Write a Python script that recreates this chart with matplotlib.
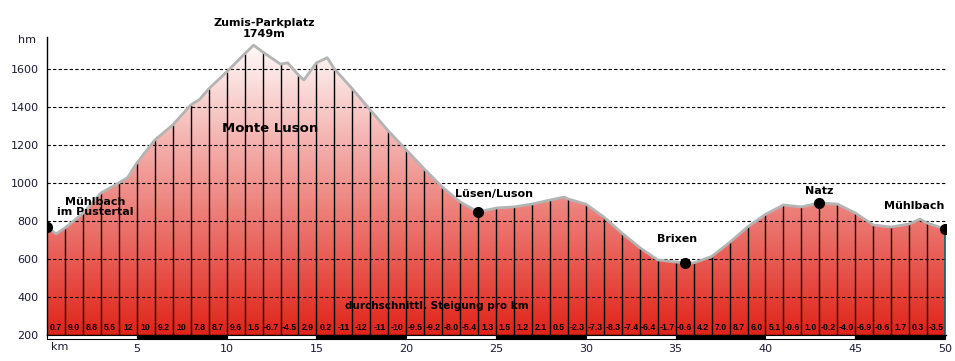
import numpy as np
import matplotlib
matplotlib.use("Agg")
import matplotlib.pyplot as plt
from matplotlib.patches import Polygon, Rectangle

# Elevation profile (km, m)
dist = [0, 0.5, 1, 2, 3, 4, 4.5, 5, 6, 7, 8, 8.5, 9, 10, 11, 11.5, 12, 13, 13.4,
        14, 14.3, 15, 15.6, 16, 17, 18, 19, 20, 21, 22, 23, 24, 25, 26, 27, 28,
        28.8, 29, 30, 31, 32, 33, 34, 35, 35.5, 36, 37, 38, 39, 40, 41, 42, 43,
        44, 45, 46, 47, 48, 48.6, 49, 50]
elev = [768, 732, 763, 840, 947, 1000, 1030, 1105, 1226, 1305, 1410, 1440, 1495,
        1584, 1679, 1725, 1690, 1625, 1632, 1568, 1542, 1632, 1659, 1600, 1495,
        1384, 1274, 1174, 1074, 979, 900, 847, 868, 874, 889, 910, 926, 916, 889,
        821, 737, 660, 595, 584, 579, 579, 613, 687, 768, 835, 884, 874, 895, 889,
        842, 779, 768, 784, 810, 789, 758]

# average gradient per km (%)
grades = ["0.7", "9.0", "8.8", "5.5", "12", "10", "9.2", "10", "7.8", "8.7",
          "9.6", "1.5", "-6.7", "-4.5", "2.9", "0.2", "-11", "-12", "-11", "-10",
          "-9.5", "-9.2", "-8.0", "-5.4", "1.3", "1.5", "1.2", "2.1", "0.5", "-2.3",
          "-7.3", "-8.3", "-7.4", "-6.4", "-1.7", "-0.6", "4.2", "7.0", "8.7", "6.0",
          "5.1", "-0.6", "1.0", "-0.2", "-4.0", "-6.9", "-0.6", "1.7", "0.3", "-3.5"]

# waypoints
pt_km = [0, 24, 35.5, 43, 50]
pt_elev = [768, 847, 579, 895, 758]
pt_names = ["Mühlbach\nim Pustertal", "Lüsen/Luson", "Brixen", "Natz", "Mühlbach"]
pt_label_pos = [(2.7, 874), (24.9, 942), (35.1, 705), (43.0, 958), (48.3, 879)]

ymin, ymax = 200, 1768
yticks = [200, 400, 600, 800, 1000, 1200, 1400, 1600]
xticks = [5, 10, 15, 20, 25, 30, 35, 40, 45, 50]

fig = plt.figure(figsize=(9.55, 3.61), dpi=100)
ax = fig.add_axes([47/955, 26/361, 899/955, 298/361])
ax.set_xlim(0, 50.05)
ax.set_ylim(ymin, ymax)

# gradient fill under profile
g = np.linspace(0, 1, 256)[:, None, None]
bot = np.array([0.88, 0.14, 0.10])
top = np.array([1.0, 1.0, 1.0])
img = np.repeat(bot + (top - bot) * g, 2, axis=1)
im = ax.imshow(img, extent=[0, 50, ymin, ymax], origin="lower", aspect="auto", zorder=1)
verts = list(zip(dist, elev)) + [(50, ymin), (0, ymin)]
poly = Polygon(verts, closed=True, facecolor="none", edgecolor="none")
ax.add_patch(poly)
im.set_clip_path(poly)

# dashed grid on top of the fill
for y in yticks[1:]:
    ax.axhline(y, color="black", lw=0.8, ls=(0, (3, 2)), zorder=3)

# km lines
kms = np.arange(1, 51)
ax.vlines(kms[:-1], ymin, np.interp(kms[:-1], dist, elev), color="black", lw=1, zorder=4)
ax.vlines(50, ymin, elev[-1], color="#006868", lw=1.2, zorder=4)

ax.plot(dist, elev, color="#b4b4b4", lw=2, zorder=5)
ax.plot(pt_km, pt_elev, "o", color="black", ms=7, zorder=6)

for name, (x, y) in zip(pt_names, pt_label_pos):
    ax.text(x, y, name, ha="center", va="center", fontsize=8, fontweight="bold",
            linespacing=1.1, zorder=7)

ax.text(12.1, 1813, "Zumis-Parkplatz\n1749m", ha="center", va="center", fontsize=8,
        fontweight="bold", linespacing=1.1, clip_on=False)
ax.text(12.4, 1284, "Monte Luson", ha="center", va="center", fontsize=9.5,
        fontweight="bold", zorder=7)
ax.text(21.7, 353, "durchschnittl. Steigung pro km", ha="center", va="center",
        fontsize=7.5, fontweight="bold", zorder=7)

for i, s in enumerate(grades):
    ax.text(i + 0.5, 242, s, ha="center", va="center", fontsize=6.2,
            fontweight="bold", family="Liberation Sans", zorder=7)

# scale bar below axis
for i in range(10):
    ax.add_patch(Rectangle((i * 5, ymin - 21), 5, 21, facecolor="white" if i % 2 == 0 else "black",
                           edgecolor="black", lw=0.8, clip_on=False, zorder=8))

ax.set_yticks(yticks)
ax.set_yticklabels([str(v) for v in yticks], fontsize=8, color="#1a1a33")
ax.set_xticks(xticks)
ax.set_xticklabels([str(v) for v in xticks], fontsize=8, color="#1a1a33")
ax.tick_params(length=0, axis="y", pad=6)
ax.tick_params(length=0, axis="x", pad=6.5)
ax.text(0.2, ymin - 38, "km", ha="left", va="top", fontsize=8, color="#1a1a33",
        clip_on=False)
fig.text(18/955, 1 - 40/361, "hm", ha="left", va="center", fontsize=8, color="#1a1a33")

for side in ["top", "right"]:
    ax.spines[side].set_visible(False)
ax.spines["left"].set_linewidth(1)
ax.spines["bottom"].set_linewidth(1)
ax.spines["left"].set_zorder(9)

fig.savefig("out.png", dpi=100)
